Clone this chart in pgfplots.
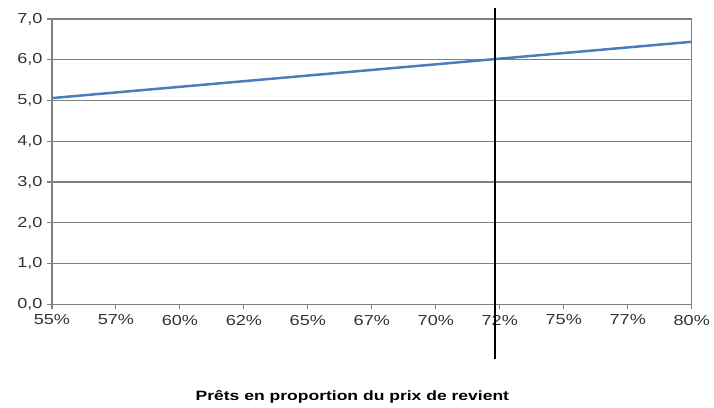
\documentclass[border=0pt]{standalone}
\usepackage{fontspec}
\setmainfont{Liberation Sans}
\usepackage{pgfplots}
\pgfplotsset{compat=1.18}
\definecolor{lineblue}{RGB}{74,126,187}
\definecolor{gridgray}{RGB}{128,128,128}
\begin{document}
\begin{tikzpicture}
\begin{axis}[
  scale only axis,
  width=641pt, height=286pt,
  xmin=55, xmax=80, ymin=0, ymax=7,
  clip=false,
  axis line style={gridgray, line width=1.2pt},
  xtick={55,57.5,...,80},
  xticklabels={55\%,57\%,60\%,62\%,65\%,67\%,70\%,72\%,75\%,77\%,80\%},
  ytick={0,1,...,7},
  tick align=outside,
  tick pos=left,
  major tick length=5pt,
  tick style={gridgray, line width=1.2pt},
  ymajorgrids,
  grid style={gridgray, line width=1.2pt},
  /pgf/number format/assume math mode=true,
  yticklabel style={/pgf/number format/.cd, fixed, fixed zerofill, precision=1, use comma, /tikz/.cd, font=\fontsize{14.5}{16}\selectfont, xscale=1.25, text=black!80},
  xticklabel style={font=\fontsize{14.5}{16}\selectfont, xscale=1.25, text=black!80, yshift=-2pt},
  xlabel={\bfseries Prêts en proportion du prix de revient},
  xlabel style={font=\fontsize{13.5}{15}\selectfont, xscale=1.3, yshift=-58pt, xshift=-15pt},
]
\addplot[lineblue, line width=2.5pt] coordinates {(55,5.06) (80,6.44)};
\draw[black, line width=1.8pt] (axis cs:72.3,7.27) -- (axis cs:72.3,-1.35);
\end{axis}
\path ([xshift=-52pt, yshift=19pt]current axis.north west) rectangle ([xshift=21pt, yshift=-103pt]current axis.south east);
\end{tikzpicture}
\end{document}
